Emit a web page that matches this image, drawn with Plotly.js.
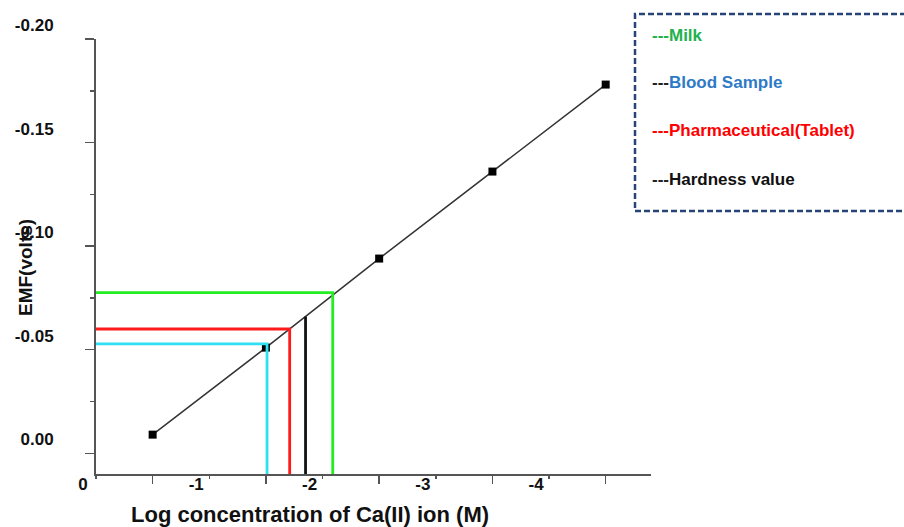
<!DOCTYPE html>
<html>
<head>
<meta charset="utf-8">
<script src="https://cdn.plot.ly/plotly-3.0.1.min.js"></script>
<style>html,body{margin:0;padding:0;background:#fff;}#chart{width:904px;height:527px;}</style>
</head>
<body>
<div id="chart"></div>
<script>
// Calibration data
const logConc = [-0.5, -1.5, -2.5, -3.5, -4.5];
const emf = [-0.009, -0.051, -0.094, -0.136, -0.178];

// Sample read-offs
const sampleNames = ["Milk", "Blood Sample", "Pharmaceutical(Tablet)", "Hardness value"];
const sampleLogConc = [-2.09, -1.51, -1.71, -1.85];
const sampleEMF = [-0.0776, -0.0528, -0.0600, -0.0660];
const sampleLineColors = ["#22ee22", "#2ee0f2", "#ff1a1a", "#111111"];
const sampleHasHorizontal = [true, true, true, false];
const legendDashColors = ["#22b14c", "#222222", "#ff0000", "#222222"];
const legendTextColors = ["#22b14c", "#2e7ac6", "#ff0000", "#111111"];

// Tick labels
const xTickVals = [0, -1, -2, -3, -4];
const xTickText = ["0", "-1", "-2", "-3", "-4"];
const yTickVals = [-0.20, -0.15, -0.10, -0.05, 0.00];
const yTickText = ["-0.20", "-0.15", "-0.10", "-0.05", "0.00"];

const xRange = [0, -4.9];
const yRange = [0.01, -0.2];

// layout geometry
const W = 904, H = 527;
const M = {l: 96, r: 253, t: 39, b: 53};
const pw = W - M.l - M.r, ph = H - M.t - M.b;
const px2x = p => (p - M.l) / pw;
const px2y = p => (H - M.b - p) / ph;

const traces = [];
traces.push({
  x: logConc, y: emf, mode: "lines+markers", type: "scatter",
  line: {color: "#333333", width: 1.5},
  marker: {symbol: "square", size: 8, color: "#000000"},
  hoverinfo: "skip", showlegend: false
});
for (let i = 0; i < sampleNames.length; i++) {
  const xs = sampleHasHorizontal[i] ? [0, sampleLogConc[i], sampleLogConc[i]] : [sampleLogConc[i], sampleLogConc[i]];
  const ys = sampleHasHorizontal[i] ? [sampleEMF[i], sampleEMF[i], yRange[0]] : [sampleEMF[i], yRange[0]];
  traces.push({
    x: xs, y: ys, mode: "lines", type: "scatter", name: sampleNames[i],
    line: {color: sampleLineColors[i], width: 2.8},
    hoverinfo: "skip", showlegend: false, cliponaxis: false
  });
}

const annotations = [];
const legendY = [35, 82, 130, 179];
for (let i = 0; i < sampleNames.length; i++) {
  annotations.push({
    xref: "paper", yref: "paper", x: px2x(650), y: px2y(legendY[i]),
    xanchor: "left", yanchor: "middle", showarrow: false,
    text: '<span style="color:' + legendDashColors[i] + '">---</span><span style="color:' + legendTextColors[i] + '">' + sampleNames[i] + '</span>',
    font: {family: "Liberation Sans Narrow, Arial Narrow, sans-serif", size: 17, weight: "bold"}
  });
}
annotations.push({
  xref: "paper", yref: "paper", x: px2x(310), y: px2y(514),
  xanchor: "center", yanchor: "middle", showarrow: false,
  text: "Log concentration of Ca(II) ion (M)",
  font: {family: "Liberation Sans, Arial, sans-serif", size: 22, weight: "bold", color: "#111"}
});
annotations.push({
  xref: "paper", yref: "paper", x: px2x(25), y: px2y(268),
  xanchor: "center", yanchor: "middle", showarrow: false, textangle: -90,
  text: "EMF(volts)",
  font: {family: "Liberation Sans, Arial, sans-serif", size: 19, weight: "bold", color: "#111"}
});

const layout = {
  width: W, height: H,
  margin: M,
  paper_bgcolor: "#ffffff", plot_bgcolor: "#ffffff",
  showlegend: false,
  font: {family: "Liberation Sans, Arial, sans-serif", color: "#111"},
  xaxis: {
    range: xRange, showgrid: false, zeroline: false,
    showline: true, linecolor: "#555", linewidth: 2,
    tickmode: "array", tickvals: xTickVals, ticktext: xTickText,
    ticks: "outside", ticklen: 3, tickwidth: 1.5, tickcolor: "#555",
    ticklabelshift: 13, ticklabelstandoff: -9,
    tickfont: {size: 17, weight: "bold", color: "#111"},
    minor: {tickmode: "linear", tick0: 0.5, dtick: 1, ticks: "outside", ticklen: 8, tickwidth: 1.5, tickcolor: "#555"}
  },
  yaxis: {
    range: yRange, showgrid: false, zeroline: false,
    showline: true, linecolor: "#555", linewidth: 2,
    tickmode: "array", tickvals: yTickVals, ticktext: yTickText,
    ticks: "outside", ticklen: 9, tickwidth: 1.5, tickcolor: "#555",
    ticklabelshift: 14, ticklabelstandoff: 28,
    tickfont: {size: 17, weight: "bold", color: "#111"},
    minor: {tickmode: "linear", tick0: -0.025, dtick: 0.05, ticks: "outside", ticklen: 4, tickwidth: 1.5, tickcolor: "#555"}
  },
  shapes: [{
    type: "rect", xref: "paper", yref: "paper",
    x0: px2x(635), x1: px2x(915), y0: px2y(211), y1: px2y(14),
    line: {color: "#264478", width: 2.5, dash: "6px,3px"}
  }],
  annotations: annotations
};

Plotly.newPlot("chart", traces, layout, {displayModeBar: false, staticPlot: true});
</script>
</body>
</html>
